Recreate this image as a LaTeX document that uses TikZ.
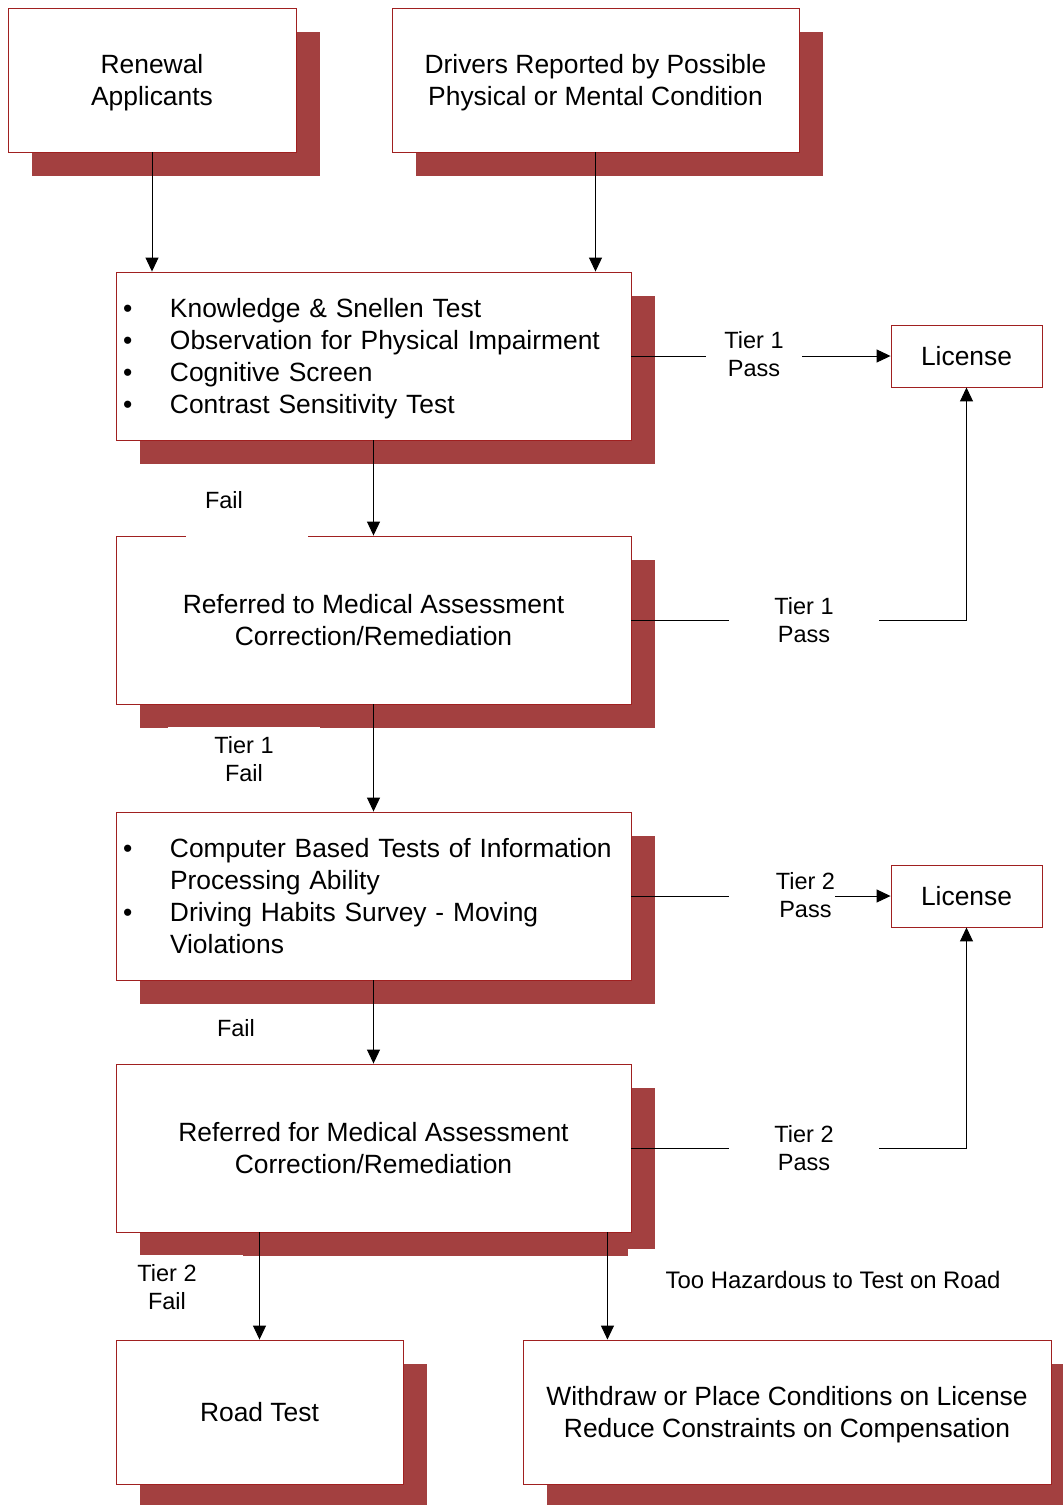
\documentclass[tikz,border=0pt]{standalone}
\usepackage{fontspec}
\setmainfont{Liberation Sans}
\usetikzlibrary{shadows,arrows.meta,calc}
\definecolor{shadowred}{RGB}{163,64,64}
\definecolor{boxred}{RGB}{160,32,32}
\newcommand\bul{\makebox[47pt][l]{•}}
\newcommand\indnt{\hspace*{47pt}}
\begin{document}
\begin{tikzpicture}[x=1pt,y=-1pt,
  box/.style={draw=boxred, line width=0.9pt, fill=white, inner sep=0pt,
    font=\fontsize{26.4}{32}\selectfont, align=center,
    drop shadow={shadow xshift=24pt, shadow yshift=-24pt, fill=shadowred, opacity=1}},
  plainbox/.style={draw=boxred, line width=0.9pt, fill=white, inner sep=0pt,
    font=\fontsize{26.4}{32}\selectfont, align=center},
  listbox/.style={box, align=left, inner xsep=7pt, text width=501pt},
  lbl/.style={fill=white, inner sep=0pt, font=\fontsize{23.5}{28}\selectfont, align=center},
  arr/.style={line width=1pt, black, -{Triangle[length=14pt,width=13pt]}},
  conn/.style={line width=1pt, black}]
\useasboundingbox (0,0) rectangle (1063,1505);

\node[box, minimum width=288pt, minimum height=144pt] (b1) at (152,80) {Renewal\\\smash{Applicants}};
\node[box, minimum width=407pt, minimum height=144pt] (b2) at (595.5,80) {Drivers Reported by Possible\\\smash{Physical or Mental Condition}};
\node[listbox, minimum width=515pt, minimum height=168pt] (b3) at (373.5,356)
  {\bul\mbox{Knowledge \& Snellen Test}\\
   \bul\mbox{Observation for Physical Impairment}\\
   \bul\mbox{Cognitive Screen}\\
   \bul\smash{Contrast Sensitivity Test}};
\node[box, minimum width=515pt, minimum height=168pt] (b4) at (373.5,620) {Referred to Medical Assessment\\Correction/Remediation};
\node[listbox, minimum width=515pt, minimum height=168pt] (b5) at (373.5,896)
  {\bul\mbox{Computer Based Tests of Information}\\
   \indnt\mbox{Processing Ability}\\
   \bul\mbox{Driving Habits Survey - Moving}\\
   \indnt\mbox{Violations}};
\node[box, minimum width=515pt, minimum height=168pt] (b6) at (373.5,1148) {Referred for Medical Assessment\\Correction/Remediation};
\node[box, minimum width=287pt, minimum height=144pt] (road) at (259.5,1412) {Road Test};
\node[box, minimum width=528pt, minimum height=144pt] (wd) at (787,1412) {Withdraw or Place Conditions on License\\\smash{Reduce Constraints on Compensation}};
\node[plainbox, minimum width=151pt, minimum height=62pt] (lic1) at (966.5,356) {License};
\node[plainbox, minimum width=151pt, minimum height=62pt] (lic2) at (966.5,896) {License};

% vertical connectors
\draw[arr] (b1.south) -- (b1.south |- b3.north);
\draw[arr] (b2.south) -- (b2.south |- b3.north);
\draw[arr] (b3.south) -- (b4.north);
\draw[arr] (b4.south) -- (b5.north);
\draw[arr] (b5.south) -- (b6.north);
\draw[arr] (road.north |- b6.south) -- (road.north);
\coordinate (hz) at ($(b6.south east)+(-24,0)$);
\draw[arr] (hz) -- (hz |- wd.north);

% right connectors
\draw[arr] (b3.east) -- node[lbl, pos=0.473, minimum width=96pt, minimum height=60pt, yshift=2pt] (p1) {Tier 1\\Pass} (lic1.west);
\draw[arr] (b4.east) -| node[lbl, pos=0.2575, minimum width=150pt, minimum height=60pt] (p2) {Tier 1\\Pass} (lic1.south);
\draw[arr] (b5.east) -- node[lbl, pos=0.581, minimum height=60pt, yshift=-2pt] (p3) {\makebox[106pt][r]{\begin{tabular}{@{}c@{}}Tier 2\\Pass\end{tabular}}} (lic2.west);
\draw[arr] (b6.east) -| node[lbl, pos=0.2575, minimum width=150pt, minimum height=60pt] (p4) {Tier 2\\Pass} (lic2.south);

% labels
\node[lbl, align=left, inner xsep=19pt, text width=84pt, minimum height=72pt] (f1) at (247,500.5) {Fail};
\node[lbl, minimum width=152pt, minimum height=64pt] (t1f) at (244,759) {Tier 1\\Fail};
\node[lbl, align=left, inner xsep=18pt, text width=85pt, minimum height=60pt, text height=17pt, text depth=12.2pt] (f2) at (259.5,1034) {Fail};
\node[lbl, minimum width=152pt, minimum height=64pt] (t2f) at (167,1287) {Tier 2\\Fail};
\node[lbl, minimum width=410pt, minimum height=62pt, font=\fontsize{23.9}{28}\selectfont] (hzl) at (833,1280) {Too Hazardous to Test on Road};
\end{tikzpicture}
\end{document}
